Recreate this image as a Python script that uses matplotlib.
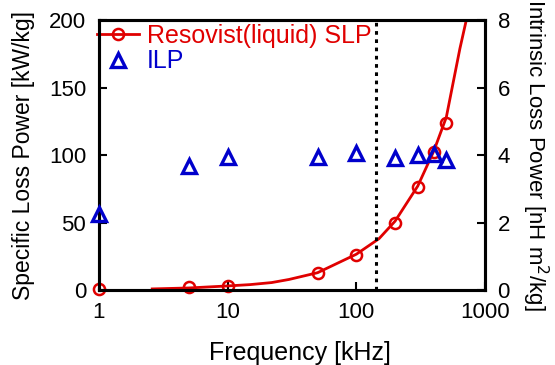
import matplotlib
matplotlib.use("Agg")
import matplotlib.pyplot as plt
import numpy as np

plt.rcParams['font.family'] = ['Liberation Sans', 'DejaVu Sans']

# measured points
freq = [1, 5, 10, 50, 100, 200, 300, 400, 500]
slp = [0.5, 2, 3, 12.5, 26, 50, 76.5, 102.5, 124]
ilp = [2.25, 3.67, 3.95, 3.93, 4.07, 3.9, 4.0, 4.02, 3.86]

# fitted curve
fit_freq = [2.6, 5, 10, 15, 22, 30, 50, 100, 150, 200, 300, 400, 500, 566, 638, 711]
fit_slp = [0.8, 1.5, 3, 4, 5.5, 7.8, 12.8, 26.5, 38, 51, 77, 103, 128, 154, 179, 199]

cutoff = 143

red = '#e00000'
blue = '#0000cc'

fig = plt.figure(figsize=(5.55, 3.65), dpi=100)
ax = fig.add_axes([0.178, 0.2055, 0.696, 0.7395])
ax2 = ax.twinx()

ax.plot(fit_freq, fit_slp, color=red, lw=2)
ax.plot(freq, slp, 'o', mfc='none', mec=red, mew=1.8, ms=8, clip_on=False, zorder=5)
ax2.plot(freq, ilp, '^', mfc='none', mec=blue, mew=2.4, ms=10, clip_on=False, zorder=5)
ax.axvline(cutoff, color='black', ls=(0, (1.2, 1.5)), lw=2.2)

ax.set_xscale('log')
ax.set_xlim(1, 1000)
ax.set_ylim(0, 200)
ax2.set_ylim(0, 8)
ax.set_xticks([1, 10, 100, 1000])
ax.set_xticklabels(['1', '10', '100', '1000'])
ax.xaxis.set_minor_locator(matplotlib.ticker.NullLocator())
ax.set_yticks([0, 50, 100, 150, 200])
ax2.set_yticks([0, 2, 4, 6, 8])

for a in (ax, ax2):
    for s in a.spines.values():
        s.set_linewidth(2.2)
    a.tick_params(direction='in', length=6, width=1.5, labelsize=16, pad=9)

ax.set_xlabel('Frequency [kHz]', fontsize=18, labelpad=9)
ax.xaxis.set_label_coords(0.52, -0.19)
ax.set_ylabel('Specific Loss Power [kW/kg]', fontsize=16.5, labelpad=10)
ax2.set_ylabel('Intrinsic Loss Power [nH m$^2$/kg]', fontsize=16, rotation=270, labelpad=29)

h1, = ax.plot([], [], '-o', color=red, mfc='none', mec=red, mew=1.8, ms=8, lw=2)
h2, = ax.plot([], [], '^', mfc='none', mec=blue, mew=2.4, ms=10)
leg = ax.legend([h1, h2], ['Resovist(liquid) SLP', 'ILP'], loc='upper left', frameon=False,
                fontsize=18, bbox_to_anchor=(-0.005, 0.985), borderaxespad=0.0,
                handlelength=1.7, handletextpad=0.3, labelspacing=0.05, borderpad=0.0)
leg.get_texts()[0].set_color(red)
leg.get_texts()[1].set_color(blue)

fig.savefig('out.png', dpi=100)
